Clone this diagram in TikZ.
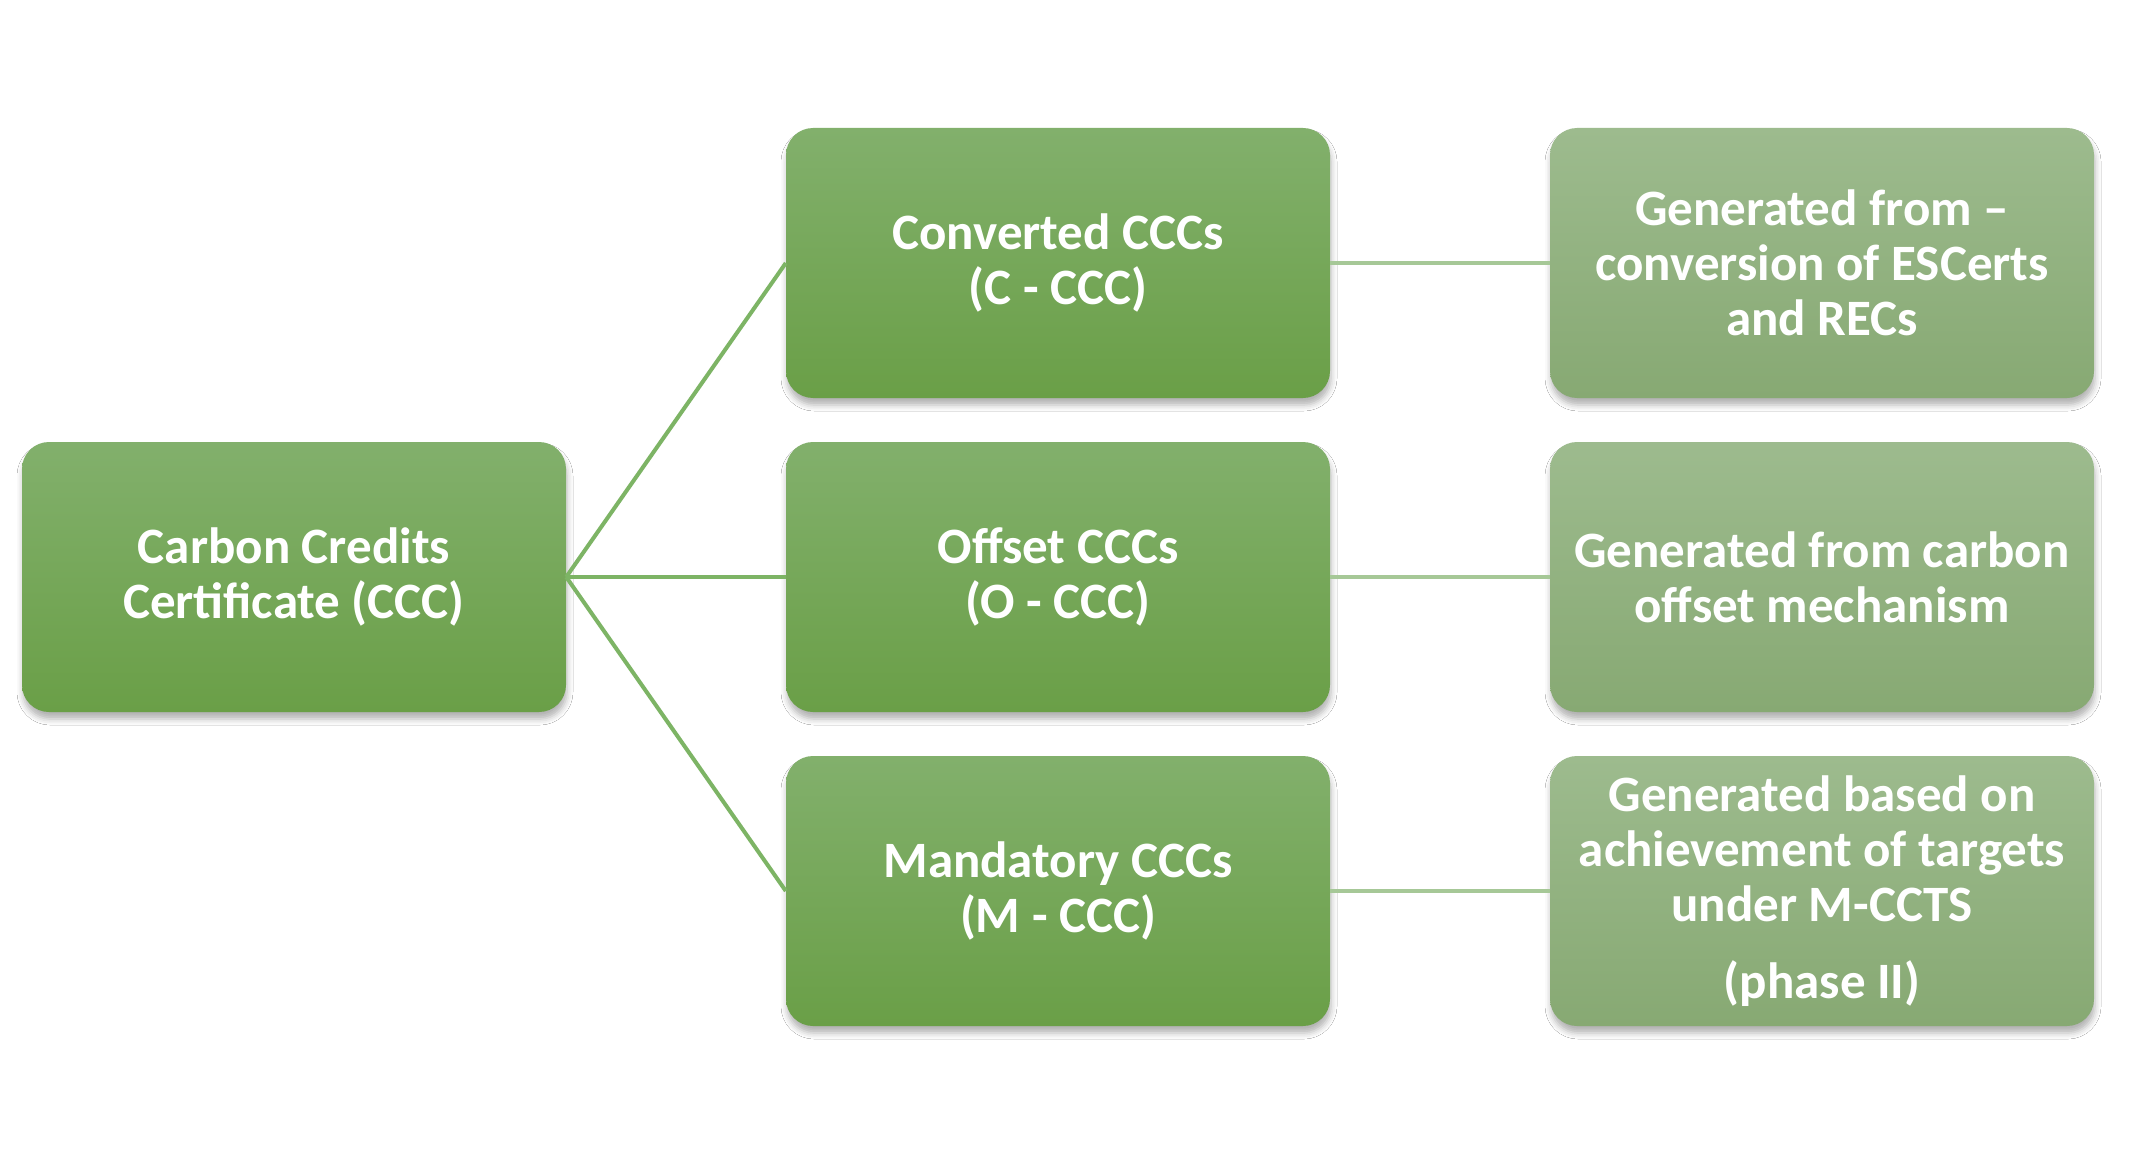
\documentclass[tikz,border=0pt]{standalone}
\usepackage{fontspec}
\setmainfont{Carlito}
\usetikzlibrary{shadows.blur}
\definecolor{gtop}{HTML}{82B06C}
\definecolor{gbot}{HTML}{6A9F47}
\definecolor{rtop}{HTML}{9DBB8E}
\definecolor{rbot}{HTML}{87A973}
\definecolor{lineA}{HTML}{7DB465}
\definecolor{lineB}{HTML}{A6C897}
\tikzset{
  box/.style={rounded corners=27pt, minimum width=544pt, minimum height=270pt,
    align=center, text=white, inner sep=0pt,
    font=\fontsize{51}{55}\selectfont\bfseries,
    blur shadow={shadow xshift=1pt, shadow yshift=-7pt, shadow blur radius=6pt, shadow opacity=30}},
  darkbox/.style={box, top color=gtop, bottom color=gbot},
  lightbox/.style={box, top color=rtop, bottom color=rbot},
  linkA/.style={draw=lineA, line width=4pt},
  linkB/.style={draw=lineB, line width=4pt}
}
\begin{document}
\begin{tikzpicture}[x=1pt,y=-1pt]
\useasboundingbox[fill=white] (0,0) rectangle (2132,1155);
\node[darkbox] (root) at (294,577) {Carbon Credits\\Certificate (CCC)};
\node[darkbox] (c) at (1058,263) {Converted CCCs\\(C - CCC)};
\node[darkbox] (o) at (1058,577) {Offset CCCs\\(O - CCC)};
\node[darkbox] (m) at (1058,891) {Mandatory CCCs\\(M - CCC)};
\node[lightbox] (rc) at (1822,263) {Generated from --\\conversion of ESCerts\\and RECs};
\node[lightbox] (ro) at (1822,577) {Generated from carbon\\offset mechanism};
\node[lightbox] (rm) at (1822,891) {Generated based on\\achievement of targets\\under M-CCTS\\[22pt](phase II)};
\draw[linkA] (root.east) -- (c.west);
\draw[linkA] (root.east) -- (o.west);
\draw[linkA] (root.east) -- (m.west);
\draw[linkB] (c.east) -- (rc.west);
\draw[linkB] (o.east) -- (ro.west);
\draw[linkB] (m.east) -- (rm.west);
\end{tikzpicture}
\end{document}
